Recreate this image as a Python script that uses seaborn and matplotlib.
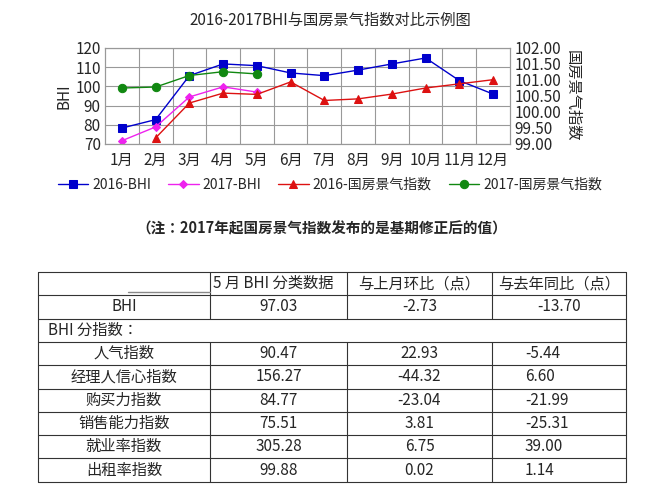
import numpy as np
import pandas as pd
import matplotlib.pyplot as plt
import seaborn as sns
from matplotlib import font_manager

sns.set_style("white")
cjk_names = sorted({f.name for f in font_manager.fontManager.ttflist if "CJK" in f.name or "Noto Sans SC" in f.name})
if not cjk_names:
    for path in font_manager.findSystemFonts():
        if "CJK" in path or "cjk" in path.lower():
            try:
                font_manager.fontManager.addfont(path)
            except Exception:
                pass
    cjk_names = sorted({f.name for f in font_manager.fontManager.ttflist if "CJK" in f.name})
cjk = "Noto Sans CJK SC" if "Noto Sans CJK SC" in cjk_names else (cjk_names[0] if cjk_names else "DejaVu Sans")
plt.rcParams["font.family"] = "sans-serif"
plt.rcParams["font.sans-serif"] = [cjk, "DejaVu Sans"]
plt.rcParams["axes.unicode_minus"] = False

months = [f"{i}月" for i in range(1, 13)]
bhi_2016 = [78.3, 82.7, 105.6, 111.7, 110.8, 107.0, 105.6, 108.5, 111.7, 114.8, 103.0, 96.0]
bhi_2017 = [71.7, 78.9, 94.5, 99.76, 97.03] + [np.nan] * 7
gf_2016 = [np.nan, 99.19, 100.28, 100.59, 100.55, 100.94, 100.36, 100.41, 100.56, 100.75, 100.88, 101.01]
gf_2017 = [100.75, 100.78, 101.14, 101.26, 101.19] + [np.nan] * 7

table_header = ["", "5 月 BHI 分类数据", "与上月环比（点）", "与去年同比（点）"]
table_rows = [
    ["BHI", "97.03", "-2.73", "-13.70"],
    ["BHI 分指数：", "", "", ""],
    ["人气指数", "90.47", "22.93", "-5.44"],
    ["经理人信心指数", "156.27", "-44.32", "6.60"],
    ["购买力指数", "84.77", "-23.04", "-21.99"],
    ["销售能力指数", "75.51", "3.81", "-25.31"],
    ["就业率指数", "305.28", "6.75", "39.00"],
    ["出租率指数", "99.88", "0.02", "1.14"],
]

W, H = 651, 484
fig = plt.figure(figsize=(W / 100, H / 100), dpi=100)

def fx(px):
    return px / W

def fy(py):
    return 1 - py / H

ax = fig.add_axes([fx(105), fy(144), fx(510 - 105), (144 - 48) / H])
ax2 = ax.twinx()
x = np.arange(1, 13)
df = pd.DataFrame({"x": x, "a": bhi_2016, "b": bhi_2017, "c": gf_2016, "d": gf_2017})

sns.lineplot(data=df, x="x", y="a", ax=ax, color="#0000cc", marker="s", markersize=6,
             markeredgecolor="#0000cc", lw=1, label="2016-BHI", legend=False)
sns.lineplot(data=df, x="x", y="b", ax=ax, color="#ee22ee", marker="D", markersize=4,
             markeredgecolor="#ee22ee", lw=1, label="2017-BHI", legend=False)
sns.lineplot(data=df, x="x", y="c", ax=ax2, color="#dd1111", marker="^", markersize=6,
             markeredgecolor="#dd1111", lw=1, label="2016-国房景气指数", legend=False)
sns.lineplot(data=df, x="x", y="d", ax=ax2, color="#118811", marker="o", markersize=6,
             markeredgecolor="#118811", lw=1, label="2017-国房景气指数", legend=False)

ax.set_xlim(0.5, 12.5)
ax.set_ylim(70, 120)
ax2.set_ylim(99, 102)
ax.set_yticks(range(70, 121, 10))
ax2.set_yticks(np.arange(99, 102.01, 0.5))
ax2.set_yticklabels([f"{v:.2f}" for v in np.arange(99, 102.01, 0.5)])
ax.set_xticks(x)
ax.set_xticklabels(months)
for xv in np.arange(1.5, 12.5, 1):
    ax.axvline(xv, color="#999999", lw=0.8, zorder=0)
ax.grid(axis="y", color="#999999", lw=0.8)
for a in (ax, ax2):
    for s in a.spines.values():
        s.set_color("#999999")
    a.tick_params(labelsize=11, length=0, pad=3)
ax.tick_params(axis="x", pad=6)
ax.set_xlabel("")
ax.set_ylabel("BHI", fontsize=11, labelpad=2)
ax2.set_ylabel("国房景气指数", fontsize=11, rotation=270, labelpad=14)

fig.text(fx(330), fy(20), "2016-2017BHI与国房景气指数对比示例图", ha="center", va="center", fontsize=11)
h1, l1 = ax.get_legend_handles_labels()
h2, l2 = ax2.get_legend_handles_labels()
fig.legend(h1 + h2, l1 + l2, loc="center", bbox_to_anchor=(fx(330), fy(185)), ncol=4,
           frameon=False, fontsize=10, handlelength=2.2, columnspacing=1.2, handletextpad=0.3)

fig.text(fx(322), fy(228), "（注：2017年起国房景气指数发布的是基期修正后的值）", ha="center", va="center",
         fontsize=10.5, fontweight="bold")

# table
cols = [38, 210, 347, 492, 626]
top, rh = 272, 23.3
nrows = len(table_rows) + 1
lc = "#333333"
for i in range(nrows + 1):
    yy = fy(top + i * rh)
    fig.add_artist(plt.Line2D([fx(cols[0]), fx(cols[-1])], [yy, yy], color=lc, lw=0.8))
for j, cx in enumerate(cols):
    for i in range(nrows):
        if i == 2 and 0 < j < len(cols) - 1:
            continue
        y0, y1 = fy(top + i * rh), fy(top + (i + 1) * rh)
        fig.add_artist(plt.Line2D([fx(cx), fx(cx)], [y0, y1], color=lc, lw=0.8))
fig.add_artist(plt.Line2D([fx(128), fx(210)], [fy(292), fy(292)], color="#888888", lw=1))

fs = 11
for i, row in enumerate([table_header] + table_rows):
    yc = fy(top + (i + 0.5) * rh)
    for j, txt in enumerate(row):
        if not txt:
            continue
        if i == 2 and j == 0:
            fig.text(fx(48), yc, txt, ha="left", va="center", fontsize=fs)
            continue
        if j == 1 and i == 0:
            fig.text(fx(213), yc, txt, ha="left", va="center", fontsize=fs)
        elif j == 3 and i not in (0, 1):
            fig.text(fx(525), yc, txt, ha="left", va="center", fontsize=fs)
        else:
            fig.text(fx((cols[j] + cols[j + 1]) / 2), yc, txt, ha="center", va="center", fontsize=fs)

fig.savefig("out.png", dpi=100)
